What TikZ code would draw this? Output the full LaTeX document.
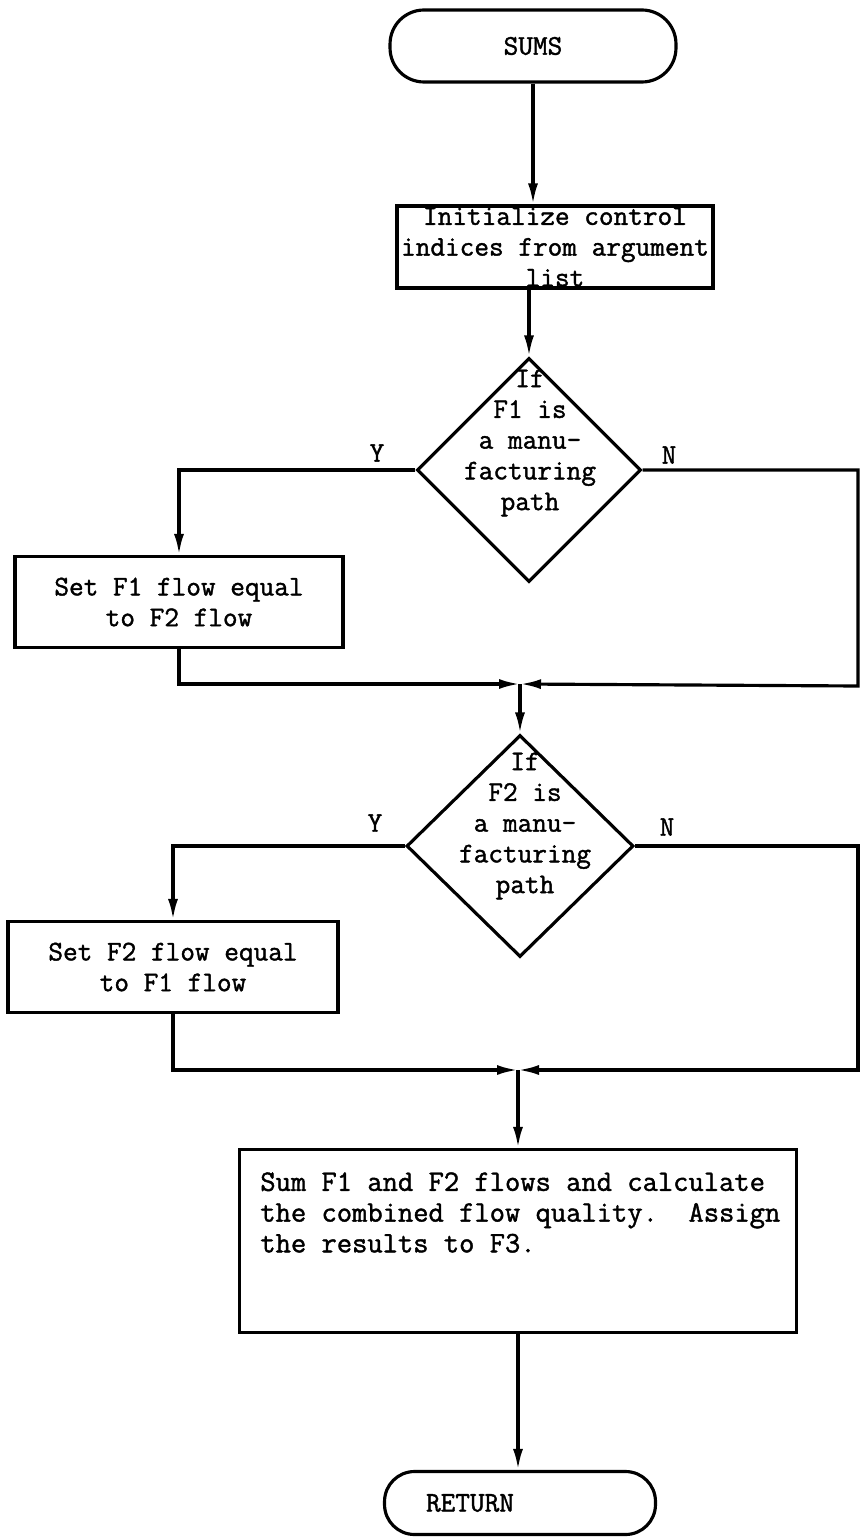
\documentclass[tikz,border=0pt]{standalone}
\usepackage{fontspec}
\setmonofont[FakeBold=1.4]{Latin Modern Mono}
\usetikzlibrary{positioning,arrows.meta,shapes.geometric}
\tikzset{
    flow/.style={font=\ttfamily\fontsize{16.2}{17.5}\selectfont},
    term/.style={flow, draw, line width=1.8pt, rounded corners=0.68cm, inner sep=0pt},
    proc/.style={flow, draw, line width=1.8pt, align=center, inner sep=0pt},
    decision/.style={draw, diamond, line width=1.8pt, inner sep=0pt},
    dtext/.style={flow, align=center, inner sep=0pt},
    lbl/.style={flow, inner sep=0pt},
    arrow/.style={-{Latex[length=0.42cm,width=0.2cm]}, line width=1.8pt}
}
\begin{document}
\begin{tikzpicture}[x=0.02cm,y=-0.02cm]
\useasboundingbox (0,0) rectangle (861,1537);
% start
\node[term, minimum width=5.72cm, minimum height=1.44cm] (sums) at (533,46) {SUMS};
\node[proc, minimum width=6.32cm, minimum height=1.64cm] (init) at (555,247) {Initialize control\\indices from argument\\list};
% first test
\node[decision, minimum width=4.48cm, minimum height=4.48cm] (dec1) at (529,470) {};
\node[dtext] (dec1txt) at (530,443) {If\\F1 is\\a manu-\\facturing\\path};
\node[lbl] (y1) at (377,453) {Y};
\node[lbl] (n1) at (669,455) {N};
\node[proc, minimum width=6.56cm, minimum height=1.82cm] (setA) at (179,602) {Set F1 flow equal\\to F2 flow};
\coordinate (m1) at (520,684);
\coordinate (r1) at (858,686);
% second test
\node[decision, minimum width=4.54cm, minimum height=4.44cm] (dec2) at (520,846) {};
\node[dtext] (dec2txt) at (525,826) {If\\F2 is\\a manu-\\facturing\\path};
\node[lbl] (y2) at (375,823) {Y};
\node[lbl] (n2) at (667,827) {N};
\node[proc, minimum width=6.6cm, minimum height=1.82cm] (setB) at (173,967) {Set F2 flow equal\\to F1 flow};
\coordinate (m2) at (518,1070);
\coordinate (r2) at (858,1070);
% sum and return
\node[proc, minimum width=11.14cm, minimum height=3.66cm] (sum) at (518,1241) {};
\node[lbl, align=left, anchor=north west, font=\ttfamily\fontsize{16.9}{17.5}\selectfont] (sumtxt) at (260,1172) {Sum F1 and F2 flows and calculate\\the combined flow quality.~ Assign\\the results to F3.};
\node[term, minimum width=5.42cm, minimum height=1.26cm, rounded corners=0.6cm] (ret) at (520,1503) {RETURN\hspace*{2cm}};
% connectors
\draw[arrow] (sums.south) -- (sums.south |- init.north);
\draw[arrow] (dec1.north |- init.south) -- (dec1.north);
\draw[arrow] (dec1.west) -| (setA.north);
\draw[arrow] (setA.south) |- (m1);
\draw[arrow] (dec1.east) -| (r1) -- (m1);
\draw[arrow] (m1) -- (dec2.north);
\draw[arrow] (dec2.west) -| (setB.north);
\draw[arrow] (setB.south) |- (m2);
\draw[arrow] (dec2.east) -| (r2) -- (m2);
\draw[arrow] (m2) -- (m2 |- sum.north);
\draw[arrow] (sum.south) -- (sum.south |- ret.north);
\end{tikzpicture}
\end{document}
